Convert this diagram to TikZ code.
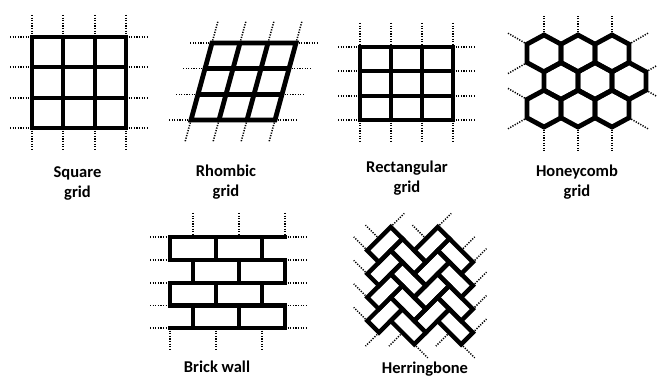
\documentclass[tikz,border=0pt]{standalone}
\usepackage{fontspec}
\setmainfont{Carlito}
\usetikzlibrary{calc}
\begin{document}
\begin{tikzpicture}[x=1pt,y=-1pt,
  thk/.style={line width=4.8pt, line join=miter},
  thkr/.style={line width=4.6pt, line join=miter, line cap=rect},
  stub/.style={line width=1.5pt, dash pattern=on 1.2pt off 1.4pt},
  lbl/.style={font=\fontsize{16.5}{20}\selectfont\bfseries, align=center, inner sep=0pt}]
\fill[white] (0,0) rectangle (658,379);
\useasboundingbox (0,0) rectangle (658,379);

% ---------- Square grid ----------
\foreach \x in {32,63,95,126} {
  \draw[stub] (\x,15) -- (\x,37);
  \draw[stub] (\x,128) -- (\x,150);
}
\foreach \y in {37,67,98,128} {
  \draw[stub] (10,\y) -- (32,\y);
  \draw[stub] (126,\y) -- (148,\y);
}
\foreach \x in {63,95} \draw[thk] (\x,37) -- (\x,128);
\foreach \y in {67,98} \draw[thk] (32,\y) -- (126,\y);
\draw[thk] (32,37) rectangle (126,128);

% ---------- Rhombic grid ----------
\coordinate (rTL) at (212,43);
\coordinate (rTR) at (296,43);
\coordinate (rBL) at (191,120);
\coordinate (rBR) at (275,120);
\foreach \t in {0,0.3333,0.6667,1} {
  \draw[stub] ($(rTL)!\t!(rTR)$) -- ++(6,-22);
  \draw[stub] ($(rBL)!\t!(rBR)$) -- ++(-6,22);
  \draw[stub] ($(rTL)!\t!(rBL)$) -- ++(-22,0);
  \draw[stub] ($(rTR)!\t!(rBR)$) -- ++(22,0);
}
\foreach \t in {0.3333,0.6667} {
  \draw[thk] ($(rTL)!\t!(rTR)$) -- ($(rBL)!\t!(rBR)$);
  \draw[thk] ($(rTL)!\t!(rBL)$) -- ($(rTR)!\t!(rBR)$);
}
\draw[thk] (rTL) -- (rTR) -- (rBR) -- (rBL) -- cycle;

% ---------- Rectangular grid ----------
\foreach \x in {360,391,422,453} {
  \draw[stub] (\x,23) -- (\x,47);
  \draw[stub] (\x,120) -- (\x,143);
}
\foreach \y in {47,71,96,120} {
  \draw[stub] (338,\y) -- (360,\y);
  \draw[stub] (453,\y) -- (474,\y);
}
\foreach \x in {391,422} \draw[thk] (\x,47) -- (\x,120);
\foreach \y in {71,96} \draw[thk] (360,\y) -- (453,\y);
\draw[thk] (360,47) rectangle (453,120);

% ---------- Honeycomb grid ----------
\foreach \x in {544,578,612} {
  \draw[stub] (\x,35) -- (\x,15);
  \draw[stub] (\x,127) -- (\x,151);
}
\draw[stub] (527,44.2) -- (508,33.2);
\draw[stub] (527,62.6) -- (508,73.6);
\draw[stub] (527,99.4) -- (508,88.4);
\draw[stub] (527,117.8) -- (508,128.8);
\draw[stub] (629,44.2) -- (648,33.2);
\draw[stub] (646,71.8) -- (657,65.5);
\draw[stub] (646,90.2) -- (657,96.5);
\draw[stub] (629,117.8) -- (648,128.8);
\foreach \cx/\cy in {544/53.4,578/53.4,612/53.4,561/81,595/81,629/81,544/108.6,578/108.6,612/108.6}
  \draw[thk] (\cx,\cy-18.4) -- (\cx+17,\cy-9.2) -- (\cx+17,\cy+9.2) -- (\cx,\cy+18.4)
             -- (\cx-17,\cy+9.2) -- (\cx-17,\cy-9.2) -- cycle;

% ---------- Brick wall ----------
\foreach \y in {237,260,283,305.5,328} {
  \draw[stub] (150,\y) -- (170,\y);
  \draw[stub] (285,\y) -- (307,\y);
}
\foreach \x in {193,239,285} \draw[stub] (\x,213) -- (\x,237);
\foreach \x in {170,216,262} \draw[stub] (\x,328) -- (\x,351);
\foreach \y in {237,260,283,305.5,328} \draw[thkr] (170,\y) -- (285,\y);
\foreach \x in {170,216,262} {
  \draw[thkr] (\x,237) -- (\x,260);
  \draw[thkr] (\x,283) -- (\x,305.5);
}
\foreach \x in {193,239,285} {
  \draw[thkr] (\x,260) -- (\x,283);
  \draw[thkr] (\x,305.5) -- (\x,328);
}

% ---------- Herringbone ----------
\begin{scope}[shift={(379,332.6)}, x={(11.74pt,11.74pt)}, y={(-11.74pt,11.74pt)}]
  \foreach \a/\b in {0/1,1/2,2/3,3/4,4/4,6/2}
    \draw[stub] (\a,\b) -- ++(0,1.15);
  \foreach \a/\b in {5/4,7/2,7/0,7/-1,6/-2,5/-3,4/-4}
    \draw[stub] (\a,\b) -- ++(1.15,0);
  \foreach \a/\b in {0/0,1/-1,3/-3}
    \draw[stub] (\a,\b) -- ++(-1.15,0);
  \foreach \a/\b in {1/-2,3/-4}
    \draw[stub] (\a,\b) -- ++(0,-1.15);
  \foreach \ua/\va/\ub/\vb in {0/0/2/1,1/1/3/2,2/2/4/3,3/3/5/4,
      1/-2/2/0,2/-1/3/1,3/0/4/2,4/1/5/3,
      2/-2/4/-1,3/-1/5/0,4/0/6/1,5/1/7/2,
      3/-4/4/-2,4/-3/5/-1,5/-2/6/0,6/-1/7/1}
    \draw[line width=4.4pt, line join=miter] (\ua,\va) -- (\ub,\va) -- (\ub,\vb) -- (\ua,\vb) -- cycle;
\end{scope}

% ---------- Labels ----------
\node[lbl] (lsq) at (77.5,183) {Square\\grid};
\node[lbl] (lrh) at (226,182) {Rhombic\\grid};
\node[lbl] (lre) at (407,178.5) {Rectangular\\grid};
\node[lbl] (lhc) at (577,182.5) {Honeycomb\\grid};
\node[lbl] (lbw) at (217,367) {Brick wall};
\node[lbl] (lhb) at (425,369.5) {Herringbone};
\end{tikzpicture}
\end{document}
